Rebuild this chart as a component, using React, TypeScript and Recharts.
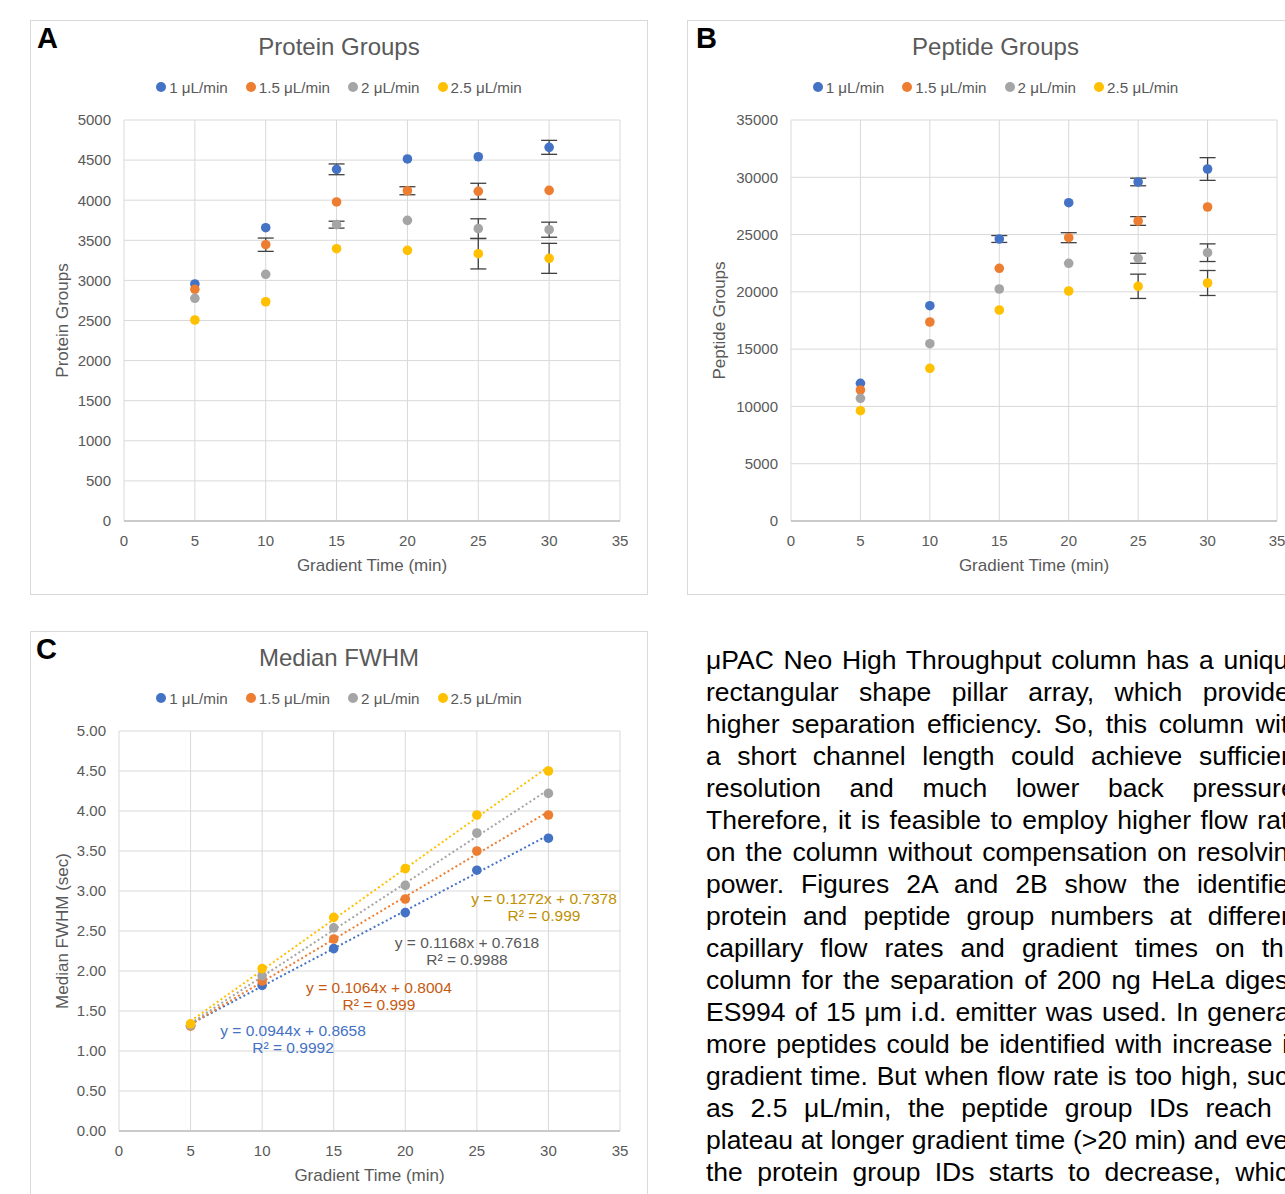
import React from 'react';
import { ScatterChart, Scatter, XAxis, YAxis, CartesianGrid, ErrorBar, Legend, Label } from 'recharts';

const FONT = '"Liberation Sans", Arial, Helvetica, sans-serif';
const TEXT_GRAY = '#595959';
const GRID = '#d9d9d9';

// ---------- data ----------
const gradientTimes = [5, 10, 15, 20, 25, 30];
const flowRates = ['1 μL/min', '1.5 μL/min', '2 μL/min', '2.5 μL/min'];
const flowColors = ['#4472C4', '#ED7D31', '#A5A5A5', '#FFC000'];
const xTicks = [0, 5, 10, 15, 20, 25, 30, 35];

// Protein groups (panel A)
const protein1 = [2955, 3657, 4385, 4514, 4542, 4659];
const protein15 = [2889, 3445, 3978, 4118, 4111, 4123];
const protein2 = [2777, 3076, 3695, 3749, 3645, 3632];
const protein25 = [2506, 2734, 3395, 3375, 3333, 3275];
const proteinErr1 = [0, 0, 67, 0, 0, 87];
const proteinErr15 = [0, 83, 0, 50, 100, 0];
const proteinErr2 = [0, 0, 43, 0, 123, 94];
const proteinErr25 = [0, 0, 0, 0, 190, 187];
const proteinTicks = [0, 500, 1000, 1500, 2000, 2500, 3000, 3500, 4000, 4500, 5000];

// Peptide groups (panel B)
const peptide1 = [12019, 18792, 24614, 27783, 29589, 30723];
const peptide15 = [11434, 17369, 22056, 24728, 26185, 27406];
const peptide2 = [10710, 15476, 20250, 22493, 22929, 23418];
const peptide25 = [9628, 13328, 18417, 20075, 20485, 20774];
const peptideErr1 = [0, 0, 300, 0, 330, 990];
const peptideErr15 = [0, 0, 0, 436, 380, 0];
const peptideErr2 = [0, 0, 0, 0, 436, 770];
const peptideErr25 = [0, 0, 0, 0, 1060, 1090];
const peptideTicks = [0, 5000, 10000, 15000, 20000, 25000, 30000, 35000];

// Median FWHM (panel C)
const fwhm1 = [1.32, 1.82, 2.28, 2.73, 3.26, 3.66];
const fwhm15 = [1.31, 1.875, 2.4, 2.9, 3.5, 3.95];
const fwhm2 = [1.32, 1.94, 2.54, 3.07, 3.725, 4.22];
const fwhm25 = [1.34, 2.03, 2.67, 3.28, 3.95, 4.5];
const fwhmTicks = [0, 0.5, 1, 1.5, 2, 2.5, 3, 3.5, 4, 4.5, 5];
const trendSlopes = [0.0944, 0.1064, 0.1168, 0.1272];
const trendIntercepts = [0.8658, 0.8004, 0.7618, 0.7378];
const trendR2 = ['0.9992', '0.999', '0.9988', '0.999'];
const eqTextColors = ['#4472C4', '#C55A11', '#595959', '#BF9000'];
const eqLabelX = [12.16, 18.16, 24.31, 29.69];
const eqLabelY = [1.2625, 1.8, 2.3625, 2.9125];

const paragraphLines = [
  'μPAC Neo High Throughput column has a unique',
  'rectangular shape pillar array, which provides',
  'higher separation efficiency. So, this column with',
  'a short channel length could achieve sufficient',
  'resolution and much lower back pressure.',
  'Therefore, it is feasible to employ higher flow rate',
  'on the column without compensation on resolving',
  'power. Figures 2A and 2B show the identified',
  'protein and peptide group numbers at different',
  'capillary flow rates and gradient times on this',
  'column for the separation of 200 ng HeLa digest.',
  'ES994 of 15 μm i.d. emitter was used. In general,',
  'more peptides could be identified with increase in',
  'gradient time. But when flow rate is too high, such',
  'as 2.5 μL/min, the peptide group IDs reach a',
  'plateau at longer gradient time (>20 min) and even',
  'the protein group IDs starts to decrease, which',
  'might be the result of the limited ionization of the',
];

// ---------- helpers ----------
type Row = { x: number; y: number; err: number | null };
const toRows = (ys: number[], errs?: number[]): Row[] =>
  gradientTimes.map((x, i) => ({ x, y: ys[i], err: errs && errs[i] ? errs[i] : null }));

const dotShape = (color: string, r: number) => (props: any) =>
  props.cx == null ? <g /> : <circle cx={props.cx} cy={props.cy} r={r} fill={color} />;

const emptyShape = () => <g />;

const LegendContent = () => (
  <div
    style={{
      display: 'flex',
      justifyContent: 'center',
      alignItems: 'center',
      height: 20,
      fontFamily: FONT,
      fontSize: 15.2,
      color: TEXT_GRAY,
      whiteSpace: 'nowrap',
    }}
  >
    {flowRates.map((name, i) => (
      <div key={name} style={{ display: 'flex', alignItems: 'center', marginRight: i < flowRates.length - 1 ? 18 : 0 }}>
        <span
          style={{
            display: 'inline-block',
            width: 10,
            height: 10,
            borderRadius: '50%',
            background: flowColors[i],
            marginRight: 3,
          }}
        />
        {name}
      </div>
    ))}
  </div>
);

const makeXTitle = (text: string) => (props: any) => {
  const vb = props.viewBox || {};
  const cx = vb.x + vb.width / 2;
  const cy = vb.y + 44;
  return (
    <text x={cx} y={cy} textAnchor="middle" dominantBaseline="central" fill={TEXT_GRAY} fontSize={17} fontFamily={FONT}>
      {text}
    </text>
  );
};

const makeYTitle = (text: string) => (props: any) => {
  const vb = props.viewBox || {};
  const cx = 32;
  const cy = vb.y + vb.height / 2;
  return (
    <text
      x={cx}
      y={cy}
      transform={`rotate(-90 ${cx} ${cy})`}
      textAnchor="middle"
      dominantBaseline="central"
      fill={TEXT_GRAY}
      fontSize={17}
      fontFamily={FONT}
    >
      {text}
    </text>
  );
};

const tickStyle = { fill: TEXT_GRAY, fontSize: 15, fontFamily: FONT };

type PanelProps = {
  left: number;
  top: number;
  width: number;
  height: number;
  letter: string;
  letterLeft: number;
  title: string;
  children: React.ReactNode;
};

const Panel = ({ left, top, width, height, letter, letterLeft, title, children }: PanelProps) => (
  <div
    style={{
      position: 'absolute',
      left,
      top,
      width,
      height,
      boxSizing: 'border-box',
      border: `1px solid ${GRID}`,
      background: '#fff',
    }}
  >
    <div style={{ position: 'absolute', left: -1, top: -1 }}>{children}</div>
    <div
      style={{
        position: 'absolute',
        left: -1,
        top: 14,
        width,
        textAlign: 'center',
        fontFamily: FONT,
        fontSize: 24,
        lineHeight: '24px',
        color: TEXT_GRAY,
        whiteSpace: 'nowrap',
      }}
    >
      {title}
    </div>
    <div
      style={{
        position: 'absolute',
        left: letterLeft,
        top: 3,
        fontFamily: FONT,
        fontWeight: 'bold',
        fontSize: 29,
        lineHeight: '29px',
        color: '#000',
      }}
    >
      {letter}
    </div>
  </div>
);

type ErrChartProps = {
  width: number;
  height: number;
  yAxisWidth: number;
  rightMargin: number;
  xAxisHeight: number;
  yMax: number;
  yTicks: number[];
  yTitle: string;
  series: Row[][];
};

const ErrChart = ({ width, height, yAxisWidth, rightMargin, xAxisHeight, yMax, yTicks, yTitle, series }: ErrChartProps) => (
  <ScatterChart width={width} height={height} margin={{ top: 80, right: rightMargin, bottom: 0, left: 0 }}>
    <CartesianGrid stroke={GRID} strokeWidth={1} />
    <XAxis
      type="number"
      dataKey="x"
      domain={[0, 35]}
      ticks={xTicks}
      interval={0}
      height={xAxisHeight}
      tickLine={false}
      tickMargin={8}
      axisLine={{ stroke: '#bfbfbf', strokeWidth: 1.5 }}
      tick={tickStyle}
    >
      <Label content={makeXTitle('Gradient Time (min)')} />
    </XAxis>
    <YAxis
      type="number"
      dataKey="y"
      domain={[0, yMax]}
      ticks={yTicks}
      interval={0}
      width={yAxisWidth}
      tickLine={false}
      tickMargin={7}
      axisLine={false}
      tick={tickStyle}
    >
      <Label content={makeYTitle(yTitle)} />
    </YAxis>
    <Legend verticalAlign="top" align="center" height={20} content={<LegendContent />} wrapperStyle={{ top: 57, left: 0, width }} />
    {/* error bars first, so that the markers sit on top of them */}
    {series.map((rows, i) => (
      <Scatter key={'err' + i} data={rows} shape={emptyShape} legendType="none" isAnimationActive={false}>
        <ErrorBar dataKey="err" direction="y" width={8} stroke="#404040" strokeWidth={1.3} />
      </Scatter>
    ))}
    {series.map((rows, i) => (
      <Scatter key={flowRates[i]} name={flowRates[i]} data={rows} fill={flowColors[i]} shape={dotShape(flowColors[i], 4.8)} isAnimationActive={false} />
    ))}
  </ScatterChart>
);

const eqShape = (i: number) => (props: any) => {
  if (props.cx == null) return <g />;
  const eq = `y = ${trendSlopes[i]}x + ${trendIntercepts[i]}`;
  const r2 = `R² = ${trendR2[i]}`;
  return (
    <g>
      <text x={props.cx} y={props.cy} textAnchor="middle" dominantBaseline="central" fill={eqTextColors[i]} fontSize={15.5} fontFamily={FONT}>
        {eq}
      </text>
      <text x={props.cx} y={props.cy + 17} textAnchor="middle" dominantBaseline="central" fill={eqTextColors[i]} fontSize={15.5} fontFamily={FONT}>
        {r2}
      </text>
    </g>
  );
};

const FwhmChart = () => {
  const series = [fwhm1, fwhm15, fwhm2, fwhm25].map((ys) => toRows(ys));
  const xMin = gradientTimes[0];
  const xMax = gradientTimes[gradientTimes.length - 1];
  const trends = trendSlopes.map((m, i) => [
    { x: xMin, y: trendIntercepts[i] + m * xMin },
    { x: xMax, y: trendIntercepts[i] + m * xMax },
  ]);
  return (
    <ScatterChart width={618} height={600} margin={{ top: 80, right: 28, bottom: 0, left: 0 }}>
      <CartesianGrid stroke={GRID} strokeWidth={1} />
      <XAxis
        type="number"
        dataKey="x"
        domain={[0, 35]}
        ticks={xTicks}
        interval={0}
        height={100}
        tickLine={false}
        tickMargin={8}
        axisLine={{ stroke: '#bfbfbf', strokeWidth: 1.5 }}
        tick={tickStyle}
      >
        <Label content={makeXTitle('Gradient Time (min)')} />
      </XAxis>
      <YAxis
        type="number"
        dataKey="y"
        domain={[0, 5]}
        ticks={fwhmTicks}
        interval={0}
        width={89}
        tickLine={false}
        tickMargin={7}
        axisLine={false}
        tick={tickStyle}
        tickFormatter={(v: number) => v.toFixed(2)}
      >
        <Label content={makeYTitle('Median FWHM (sec)')} />
      </YAxis>
      <Legend verticalAlign="top" align="center" height={20} content={<LegendContent />} wrapperStyle={{ top: 57, left: 0, width: 618 }} />
      {trends.map((rows, i) => (
        <Scatter
          key={'trend' + i}
          data={rows}
          line={{ stroke: flowColors[i], strokeWidth: 2, strokeDasharray: '2 2.6' }}
          lineType="joint"
          shape={emptyShape}
          legendType="none"
          isAnimationActive={false}
        />
      ))}
      {series.map((rows, i) => (
        <Scatter key={flowRates[i]} name={flowRates[i]} data={rows} fill={flowColors[i]} shape={dotShape(flowColors[i], 4.8)} isAnimationActive={false} />
      ))}
      {trendSlopes.map((_, i) => (
        <Scatter
          key={'eq' + i}
          data={[{ x: eqLabelX[i], y: eqLabelY[i] }]}
          shape={eqShape(i)}
          legendType="none"
          isAnimationActive={false}
        />
      ))}
    </ScatterChart>
  );
};

export default function App() {
  const proteinSeries = [
    toRows(protein1, proteinErr1),
    toRows(protein15, proteinErr15),
    toRows(protein2, proteinErr2),
    toRows(protein25, proteinErr25),
  ];
  const peptideSeries = [
    toRows(peptide1, peptideErr1),
    toRows(peptide15, peptideErr15),
    toRows(peptide2, peptideErr2),
    toRows(peptide25, peptideErr25),
  ];
  return (
    <div
      style={{
        position: 'absolute',
        left: 0,
        top: 0,
        width: 1285,
        height: 1194,
        overflow: 'hidden',
        background: '#fff',
      }}
    >
      <Panel left={30} top={20} width={618} height={575} letter="A" letterLeft={6} title="Protein Groups">
        <ErrChart
          width={618}
          height={575}
          yAxisWidth={94}
          rightMargin={28}
          xAxisHeight={74}
          yMax={5000}
          yTicks={proteinTicks}
          yTitle="Protein Groups"
          series={proteinSeries}
        />
      </Panel>
      <Panel left={687} top={20} width={617} height={575} letter="B" letterLeft={8} title="Peptide Groups">
        <ErrChart
          width={617}
          height={575}
          yAxisWidth={104}
          rightMargin={27}
          xAxisHeight={74}
          yMax={35000}
          yTicks={peptideTicks}
          yTitle="Peptide Groups"
          series={peptideSeries}
        />
      </Panel>
      <Panel left={30} top={631} width={618} height={600} letter="C" letterLeft={5} title="Median FWHM">
        <FwhmChart />
      </Panel>
      <div
        style={{
          position: 'absolute',
          left: 706,
          top: 644,
          fontFamily: FONT,
          fontSize: 26.5,
          lineHeight: '32px',
          color: '#000',
        }}
      >
        {paragraphLines.map((line, i) => (
          <div key={i} style={{ width: 597, textAlign: 'justify', textAlignLast: 'justify', height: 32 }}>
            {line}
          </div>
        ))}
      </div>
    </div>
  );
}
